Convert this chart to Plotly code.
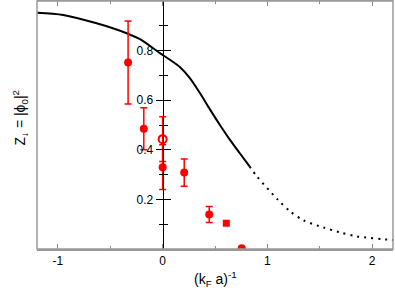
import plotly.graph_objects as go

# Theory curve (solid part)
curve_x = [-1.2, -0.95, -0.63, -0.344, -0.217, -0.026, 0.07, 0.167, 0.26, 0.356, 0.452, 0.547, 0.643, 0.739, 0.83]
curve_y = [0.953, 0.944, 0.91, 0.87, 0.846, 0.79, 0.763, 0.733, 0.689, 0.629, 0.563, 0.5, 0.44, 0.385, 0.333]
# Theory curve (dotted part)
dot_x = [0.83, 0.898, 1.095, 1.216, 1.343, 1.534, 1.693, 1.853, 2.17, 2.2]
dot_y = [0.333, 0.294, 0.201, 0.152, 0.116, 0.087, 0.067, 0.051, 0.037, 0.036]

# Filled circles
fill_x = [-0.33, -0.18, 0.0, 0.206, 0.445, 0.755]
fill_y = [0.752, 0.485, 0.33, 0.308, 0.139, 0.003]
fill_err = [0.167, 0.085, 0.09, 0.055, 0.032, 0.0]
# Open circle
open_x = [0.0]
open_y = [0.443]
open_err = [0.09]
# Square
sq_x = [0.608]
sq_y = [0.104]
sq_err = [0.008]

x_ticks = [-1, 0, 1, 2]
x_ticktext = ["-1", "0", "1", "2"]
x_minor = [-0.5, 0.5, 1.5]
y_ticks = [0.2, 0.4, 0.6, 0.8]
y_ticktext = ["0.2", "0.4", "0.6", "0.8"]
y_minor = [0.1, 0.3, 0.5, 0.7, 0.9]

RED = "#ff0000"
fig = go.Figure()
fig.add_trace(go.Scatter(x=curve_x, y=curve_y, mode="lines", line=dict(color="black", width=2, shape="spline", smoothing=0.8), showlegend=False))
fig.add_trace(go.Scatter(x=dot_x, y=dot_y, mode="lines", line=dict(color="black", width=2, dash="2px,5px", shape="spline", smoothing=0.8), showlegend=False))
fig.add_trace(go.Scatter(x=fill_x, y=fill_y, mode="markers",
                         marker=dict(color=RED, size=8, symbol="circle"),
                         error_y=dict(type="data", array=fill_err, color=RED, thickness=1.5, width=3.5),
                         showlegend=False))
fig.add_trace(go.Scatter(x=open_x, y=open_y, mode="markers",
                         marker=dict(color=RED, size=8, symbol="circle-open", line=dict(width=2, color=RED)),
                         error_y=dict(type="data", array=open_err, color=RED, thickness=1.5, width=3.5),
                         showlegend=False))
fig.add_trace(go.Scatter(x=sq_x, y=sq_y, mode="markers",
                         marker=dict(color=RED, size=7, symbol="square"),
                         error_y=dict(type="data", array=sq_err, color=RED, thickness=1.5, width=3),
                         showlegend=False))
# invisible trace to activate yaxis2
fig.add_trace(go.Scatter(x=[0], y=[0.5], yaxis="y2", mode="markers", marker=dict(opacity=0), showlegend=False, hoverinfo="skip"))

ypos = (0 - (-1.2)) / (2.2 - (-1.2))
font = dict(family="Liberation Sans, Arial", size=12, color="black")

fig.update_layout(
    width=395, height=293,
    margin=dict(l=37, r=2, t=1, b=44, autoexpand=False),
    plot_bgcolor="white", paper_bgcolor="white",
    font=font,
    xaxis=dict(range=[-1.2, 2.2], tickmode="array", tickvals=x_ticks, ticktext=x_ticktext,
               ticks="inside", ticklen=5, tickcolor="#888", tickwidth=1,
               minor=dict(tickmode="array", tickvals=x_minor, ticks="inside", ticklen=3, tickcolor="#888"),
               showline=True, linecolor="#999", linewidth=1.5, mirror="ticks",
               showgrid=False, zeroline=False, automargin=False,
               tickfont=dict(size=12)),
    yaxis=dict(range=[0, 1.0], anchor="free", position=ypos, side="left",
               tickmode="array", tickvals=y_ticks, ticktext=y_ticktext,
               ticks="outside", ticklen=7, tickcolor="black", tickwidth=1,
               minor=dict(tickmode="array", tickvals=y_minor, ticks="outside", ticklen=4, tickcolor="black"),
               showline=True, linecolor="black", linewidth=1, automargin=False,
               showgrid=False, zeroline=False, tickfont=dict(size=12)),
    yaxis2=dict(range=[0, 1.0], overlaying="y", anchor="free", position=ypos, side="right",
                tickmode="array", tickvals=y_ticks, showticklabels=False,
                ticks="outside", ticklen=7, tickcolor="black", tickwidth=1,
                minor=dict(tickmode="array", tickvals=y_minor, ticks="outside", ticklen=4, tickcolor="black"),
                showline=False, showgrid=False, zeroline=False, automargin=False),
    shapes=[dict(type="rect", xref="paper", yref="paper", x0=0, x1=1, y0=0, y1=1,
                 line=dict(color="#999", width=1.5), layer="above")],
    annotations=[
        dict(text="Z<sub>↓</sub> = |ϕ<sub>0</sub>|<sup>2</sup>", xref="paper", yref="paper",
             x=-0.048, y=0.53, textangle=-90, showarrow=False,
             font=dict(size=14, color="black"), xanchor="center", yanchor="middle"),
        dict(text="(k<sub>F</sub> a)<sup>-1</sup>", xref="paper", yref="paper",
             x=0.5, y=-0.12, showarrow=False,
             font=dict(size=14, color="black"), xanchor="center", yanchor="middle"),
    ],
)

fig.write_html("out.html", config={"displayModeBar": False},
               post_script="document.body.style.margin='0px';document.body.style.padding='0px';")
